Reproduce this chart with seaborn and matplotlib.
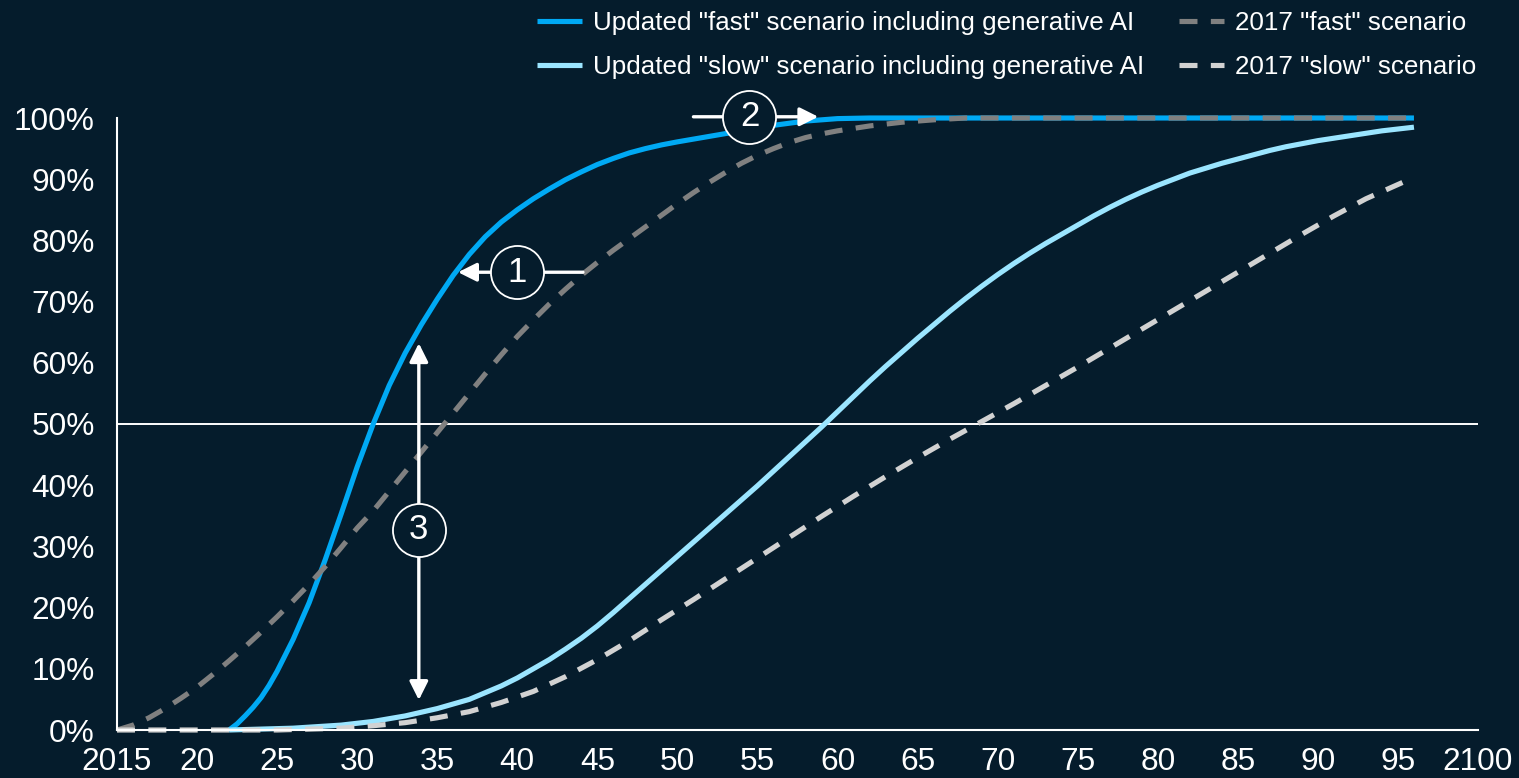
import numpy as np
import pandas as pd
import seaborn as sns
from matplotlib import pyplot as plt

# ------------------------------------------------------------
#     data (% of work automated)
# ------------------------------------------------------------

scenarios = [
    'Updated "fast" scenario including generative AI',
    'Updated "slow" scenario including generative AI',
    '2017 "fast" scenario',
    '2017 "slow" scenario',
]

fast_new_years = [2022, 2022.5, 2023, 2023.5, 2024, 2024.5, 2025, 2026, 2027, 2028, 2029, 2030,
                  2031, 2032, 2033, 2034, 2035, 2036, 2037, 2038, 2039, 2040, 2041, 2042,
                  2043, 2044, 2045, 2046, 2047, 2048, 2049, 2050, 2052, 2054, 2056, 2058,
                  2060, 2062, 2096]
fast_new_pct = [0, 1.0, 2.3, 3.7, 5.3, 7.3, 9.6, 14.8, 20.8, 27.8, 35.3, 43,
                50, 56.3, 61.6, 66.2, 70.4, 74.3, 77.7, 80.6, 83.0, 85.0, 86.8, 88.4,
                89.9, 91.2, 92.4, 93.4, 94.3, 95.0, 95.6, 96.1, 97.0, 97.9, 98.8, 99.5,
                99.9, 100, 100]

slow_new_years = [2022, 2026, 2029, 2031, 2033, 2035, 2037, 2039, 2040, 2041, 2042, 2043,
                  2044, 2045, 2046, 2047, 2048, 2049, 2050, 2051, 2052, 2053, 2054, 2055,
                  2056, 2057, 2058, 2059, 2060, 2061, 2062, 2063, 2064, 2065, 2066, 2067,
                  2068, 2069, 2070, 2071, 2072, 2073, 2074, 2075, 2076, 2077, 2078, 2079,
                  2080, 2081, 2082, 2083, 2084, 2085, 2086, 2087, 2088, 2089, 2090, 2091,
                  2092, 2093, 2094, 2095, 2096]
slow_new_pct = [0, 0.3, 0.8, 1.4, 2.3, 3.5, 5, 7.2, 8.5, 10, 11.5, 13.2,
                15, 17, 19.2, 21.5, 23.8, 26.1, 28.4, 30.7, 33, 35.3, 37.6, 39.9,
                42.3, 44.7, 47.1, 49.5, 52, 54.5, 57, 59.4, 61.7, 64, 66.2, 68.4,
                70.5, 72.5, 74.4, 76.2, 77.9, 79.5, 81, 82.5, 84, 85.4, 86.7, 87.9,
                89, 90, 91, 91.8, 92.6, 93.3, 94, 94.7, 95.3, 95.8, 96.3, 96.7,
                97.1, 97.5, 97.9, 98.2, 98.5]

fast_old_years = [2015, 2016, 2017, 2018, 2019, 2020, 2021, 2022, 2023, 2024, 2025, 2026,
                  2027, 2028, 2029, 2030, 2031, 2032, 2033, 2034, 2035, 2036, 2037, 2038,
                  2039, 2040, 2041, 2042, 2043, 2044, 2045, 2046, 2047, 2048, 2049, 2050,
                  2051, 2052, 2053, 2054, 2055, 2056, 2057, 2058, 2059, 2060, 2062, 2064,
                  2066, 2068, 2096]
fast_old_pct = [0, 0.8, 2, 3.5, 5.2, 7, 9.1, 11.3, 13.6, 16, 18.5, 21.1,
                23.8, 26.7, 29.8, 33, 35.8, 39, 42.2, 45.4, 48.6, 51.8, 55, 58.2,
                61.3, 64.3, 67, 69.6, 72, 74.3, 76.4, 78.4, 80.3, 82.2, 84.1, 86,
                87.8, 89.5, 91.1, 92.6, 93.9, 95, 96, 96.8, 97.4, 97.9, 98.7, 99.3,
                99.7, 100, 100]

slow_old_years = [2015, 2025, 2029, 2031, 2033, 2035, 2037, 2039, 2041, 2043, 2045, 2047,
                  2049, 2051, 2053, 2055, 2057, 2059, 2061, 2063, 2065, 2067, 2069, 2071,
                  2073, 2075, 2077, 2079, 2081, 2083, 2085, 2087, 2089, 2091, 2093, 2096]
slow_old_pct = [0, 0, 0.3, 0.7, 1.2, 2, 3, 4.5, 6.3, 8.7, 11.5, 14.6,
                18, 21.3, 24.7, 28.1, 31.5, 34.9, 38.2, 41.4, 44.5, 47.5, 50.4, 53.3,
                56.3, 59.3, 62.4, 65.5, 68.6, 71.7, 74.8, 77.9, 81, 84, 86.8, 90.3]

x_ticks = list(range(2015, 2101, 5))
x_ticklabels = ["2015"] + [str(y)[2:] for y in x_ticks[1:-1]] + ["2100"]
y_ticks = list(range(0, 101, 10))
y_ticklabels = [f"{v}%" for v in y_ticks]

# long format for seaborn
frames = []
for name, yrs, vals in zip(scenarios,
                           [fast_new_years, slow_new_years, fast_old_years, slow_old_years],
                           [fast_new_pct, slow_new_pct, fast_old_pct, slow_old_pct]):
    frames.append(pd.DataFrame({"year": yrs, "pct": vals, "scenario": name}))
df = pd.concat(frames, ignore_index=True)

# ------------------------------------------------------------
#     plot
# ------------------------------------------------------------

bg = "#051c2c"
palette = dict(zip(scenarios, ["#00a9f4", "#9be5ff", "#808080", "#d2d2d2"]))
dashes = dict(zip(scenarios, ["", "", (3.5, 2.6), (3.5, 2.6)]))

sns.set_style("dark")
plt.rcParams["font.family"] = ["Liberation Sans", "DejaVu Sans"]

fig = plt.figure(figsize=(15.19, 7.78), dpi=100, facecolor=bg)
ax = fig.add_axes([117 / 1519, 1 - 730 / 778, (1478 - 117) / 1519, (730 - 118) / 778])
ax.set_facecolor(bg)

sns.lineplot(data=df, x="year", y="pct", hue="scenario", style="scenario",
             hue_order=scenarios, style_order=scenarios,
             palette=palette, dashes=dashes, linewidth=3.7,
             estimator=None, ax=ax)
for line in ax.lines:
    line.set_clip_on(False)
    line.set_solid_capstyle("butt")
    line.set_solid_joinstyle("round")

ax.axhline(50, color="white", lw=1.4, zorder=1)

ax.set_xlim(2015, 2100)
ax.set_ylim(0, 100)
ax.set_xticks(x_ticks, x_ticklabels)
ax.set_yticks(y_ticks, y_ticklabels)
ax.tick_params(axis="both", length=0, colors="white", labelsize=22.8)
ax.tick_params(axis="y", pad=16)
ax.tick_params(axis="x", pad=12)
ax.set_xlabel("")
ax.set_ylabel("")
ax.grid(False)
for side in ["top", "right"]:
    ax.spines[side].set_visible(False)
for side in ["left", "bottom"]:
    ax.spines[side].set_visible(True)
    ax.spines[side].set_color("white")
    ax.spines[side].set_linewidth(1.5)

# legend in two columns above the plot
handles, labels = ax.get_legend_handles_labels()
ax.legend(handles, labels, ncol=2, frameon=False, fontsize=18.7,
          labelcolor="white", loc="upper right",
          bbox_to_anchor=(1476 / 1519, 1 - 11 / 778), bbox_transform=fig.transFigure,
          borderpad=0, borderaxespad=0, handlelength=1.75, handletextpad=0.4,
          columnspacing=1.35, labelspacing=0.76)
for h in ax.get_legend().get_lines():
    h.set_linewidth(3.7)

# numbered call-outs
def bubble(x, y, num):
    ax.scatter([x], [y], s=1460, facecolor=bg, edgecolor="white", linewidth=1.3,
               zorder=6, clip_on=False)
    ax.text(x, y, num, ha="center", va="center", color="white", fontsize=25, zorder=7)

def arrow(x0, y0, x1, y1, style="-|>"):
    ax.annotate("", xy=(x1, y1), xytext=(x0, y0), zorder=5, annotation_clip=False,
                arrowprops=dict(arrowstyle=style, color="white", lw=2.4,
                                mutation_scale=28, shrinkA=0, shrinkB=0))

arrow(2038.4, 74.8, 2036.3, 74.8)
arrow(2041.7, 74.8, 2044.1, 74.8, "-")
bubble(2040.0, 74.8, "1")

arrow(2051.0, 100.2, 2052.9, 100.2, "-")
arrow(2056.1, 100.2, 2058.8, 100.2)
bubble(2054.5, 100.2, "2")

arrow(2033.85, 36.9, 2033.85, 63.2)
arrow(2033.85, 28.4, 2033.85, 4.9)
bubble(2033.85, 32.7, "3")

plt.savefig("out.png", dpi=100, facecolor=bg)
